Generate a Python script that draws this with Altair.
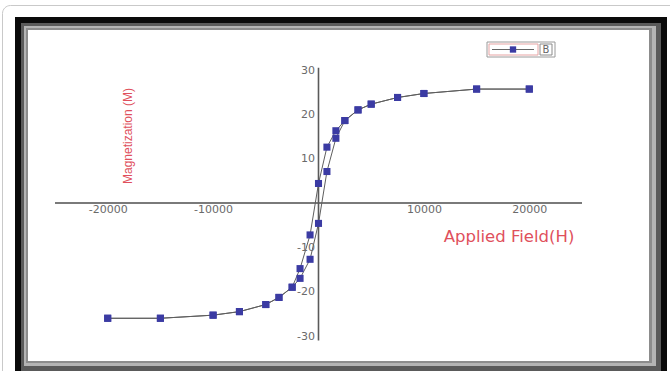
import altair as alt
import pandas as pd

# Hysteresis loop: field sweep from +H to -H, then back from -H to +H
field_down = [20000, 15000, 10000, 7500, 5000, 3750, 2500, 1650, 800, 0,
              -800, -1750, -2500, -3750, -5000, -7500, -10000, -15000, -20000]
mag_down = [25.7, 25.7, 24.7, 23.8, 22.3, 21.0, 18.6, 16.3, 12.6, 4.4,
            -7.2, -14.8, -19.0, -21.3, -22.9, -24.5, -25.3, -26.0, -26.0]
field_up = [-20000, -15000, -10000, -7500, -5000, -3750, -2500, -1750, -800, 0,
            800, 1650, 2500, 3750, 5000, 7500, 10000, 15000, 20000]
mag_up = [-26.0, -26.0, -25.3, -24.5, -22.9, -21.3, -19.0, -17.0, -12.7, -4.6,
          7.1, 14.6, 18.6, 21.0, 22.3, 23.8, 24.7, 25.7, 25.7]

x_tick_values = [-20000, -10000, 10000, 20000]
y_tick_values = [-30, -20, -10, 10, 20, 30]
x_extent = [-25000, 25000]
y_extent = [-31, 30.5]
series_name = "B"

W, H = 670, 371
BLUE = "#3b3ba3"
RED = "#e0505c"

fields = field_down + field_up
mags = mag_down + mag_up
loop = pd.DataFrame({
    "H": fields,
    "M": mags,
    "step": list(range(len(fields))),
})

xs = alt.Scale(domain=x_extent, range=[55, 582], nice=False, zero=False)
ys = alt.Scale(domain=[-30, 30], range=[336, 70], nice=False, zero=False)

one = pd.DataFrame({"k": [0]})


def box(x0, y0, x1, y1, **kw):
    return alt.Chart(one).mark_rect(**kw).encode(
        x=alt.value(x0), x2=alt.value(x1), y=alt.value(y0), y2=alt.value(y1))


# Page card outline and the bevelled black frame
card = box(2.5, 5.5, 700, 400, filled=False, stroke="#c9c9c9", strokeWidth=1, cornerRadius=8)
frame_layers = [box(x0, y0, x1, y1, color=col) for (x0, y0, x1, y1, col) in [
    (15, 17, 667, 390, "#0a0a0a"),
    (21, 23, 661, 384, "#5a5a5a"),
    (24, 26, 656, 366, "#b4b4b4"),
    (26, 28, 652, 363, "#8c8c8c"),
    (28, 30, 649, 361, "#ffffff"),
]]

axis_style = dict(domain=False, ticks=False, grid=False, labelFontSize=11,
                  labelFont="DejaVu Sans", labelColor="#6a6a6a", title=None, zindex=1,
                  labelExpr="datum.value + ''")

# Axis lines crossing at the origin
x_line = alt.Chart(pd.DataFrame({"a": [x_extent[0]], "b": [x_extent[1]], "y": [0]})).mark_rule(
    color="#7a7a7a", strokeWidth=2).encode(
    x=alt.X("a:Q", scale=xs,
            axis=alt.Axis(values=x_tick_values, offset=-(H - 203), labelPadding=0, **axis_style)),
    x2="b:Q",
    y=alt.Y("y:Q", scale=ys,
            axis=alt.Axis(values=y_tick_values, offset=-318.5, labelPadding=4, **axis_style)))
y_line = alt.Chart(pd.DataFrame({"x": [0], "a": [y_extent[0]], "b": [y_extent[1]]})).mark_rule(
    color="#5a5a5a", strokeWidth=1.6).encode(
    x=alt.X("x:Q", scale=xs), y=alt.Y("a:Q", scale=ys), y2="b:Q")

curve = alt.Chart(loop).mark_line(color="#5e5e5e", strokeWidth=1).encode(
    x=alt.X("H:Q", scale=xs), y=alt.Y("M:Q", scale=ys), order="step:Q")

points = alt.Chart(loop).mark_point(shape="square", filled=True, size=50, opacity=1,
                                    color=BLUE).encode(
    x=alt.X("H:Q", scale=xs), y=alt.Y("M:Q", scale=ys))

# Legend key: line with square marker and the series name
legend_layers = [
    box(487, 42, 555, 57, filled=False, stroke="#9a9a9a", strokeWidth=1),
    box(489, 44, 538, 55, filled=False, stroke="#e6a3a3", strokeWidth=1),
    box(540, 44, 552, 55, filled=False, stroke="#8a8a8a", strokeWidth=1),
    alt.Chart(one).mark_rule(color="#666", strokeWidth=1).encode(
        x=alt.value(492), x2=alt.value(534), y=alt.value(49.5)),
    alt.Chart(one).mark_point(shape="square", filled=True, size=40, color=BLUE, opacity=1).encode(
        x=alt.value(513), y=alt.value(49.5)),
    alt.Chart(pd.DataFrame({"t": [series_name]})).mark_text(
        color="#666", fontSize=10, font="DejaVu Sans").encode(
        x=alt.value(546), y=alt.value(50), text="t:N"),
]

y_title = alt.Chart(pd.DataFrame({"t": ["Magnetization (M)"]})).mark_text(
    angle=270, color=RED, fontSize=12, font="Liberation Sans").encode(
    x=alt.value(128), y=alt.value(136), text="t:N")
x_title = alt.Chart(pd.DataFrame({"t": ["Applied Field(H)"]})).mark_text(
    color=RED, fontSize=16.5, font="DejaVu Sans").encode(
    x=alt.value(509), y=alt.value(237), text="t:N")

chart = alt.layer(card, *frame_layers, x_line, y_line, curve, points,
                  *legend_layers, y_title, x_title).properties(
    width=W, height=H, padding=0, autosize=alt.AutoSizeParams(type="none"),
    background="white"
).configure_view(stroke=None)

chart.save("out.html", embed_options={"renderer": "svg", "actions": False})
